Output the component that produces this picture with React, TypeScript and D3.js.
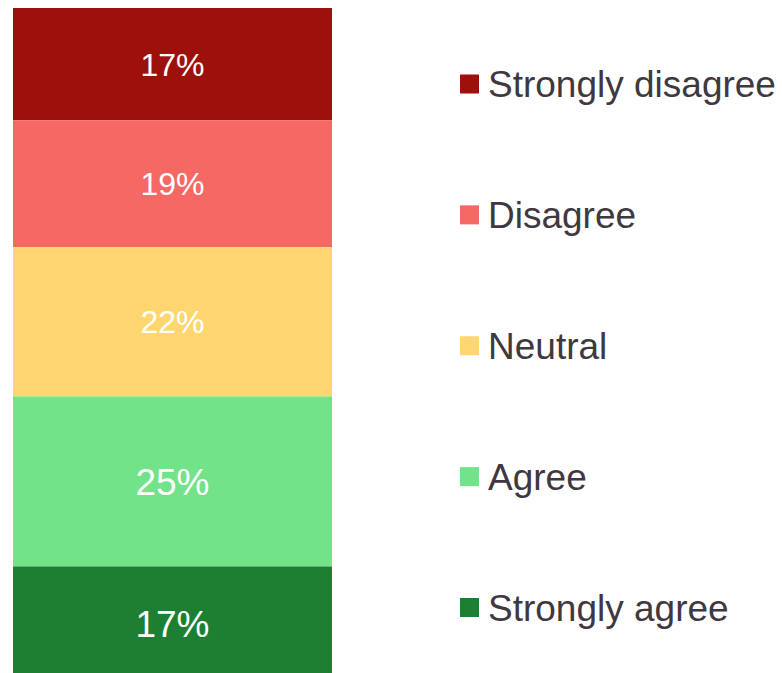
import React from "react";
import * as d3 from "d3";

const categories = ["Strongly disagree", "Disagree", "Neutral", "Agree", "Strongly agree"];
const values = [16.7, 18.9, 22.2, 25.3, 16.9];
const labels = ["17%", "19%", "22%", "25%", "17%"];
const colors = ["#9E100C", "#F56864", "#FFD66F", "#72E389", "#1C7F31"];
const labelFontSizes = [32, 32, 32, 37, 37];

const W = 782;
const H = 673;

export default function App() {
  const total = d3.sum(values);
  const y = d3.scaleLinear().domain([0, total]).range([8, 680]);
  const x0 = 13;
  const x1 = 332;
  const stackStarts = values.map((_, i) => d3.sum(values.slice(0, i)));
  const legendY = d3.scalePoint<string>().domain(categories).range([84, 607.5]);

  return (
    <svg
      width={W}
      height={H}
      style={{ position: "absolute", left: 0, top: 0, display: "block" }}
      fontFamily="'Liberation Sans', Arial, sans-serif"
    >
      <rect x={0} y={0} width={W} height={H} fill="#fff" />
      {values.map((v, i) => {
        const ya = y(stackStarts[i]);
        const yb = y(stackStarts[i] + v);
        return (
          <g key={categories[i]}>
            <rect x={x0} y={ya} width={x1 - x0} height={yb - ya} fill={colors[i]} />
            <text
              x={(x0 + x1) / 2}
              y={(ya + yb) / 2}
              dy="0.36em"
              textAnchor="middle"
              fill="#fff"
              fontSize={labelFontSizes[i]}
            >
              {labels[i]}
            </text>
          </g>
        );
      })}
      {categories.map((c, i) => {
        const cy = legendY(c) as number;
        return (
          <g key={"lg" + c}>
            <rect x={460} y={cy - 9.5} width={19} height={19} fill={colors[i]} />
            <text x={488} y={cy} dy="0.36em" fill="#403841" fontSize={37}>
              {c}
            </text>
          </g>
        );
      })}
    </svg>
  );
}
